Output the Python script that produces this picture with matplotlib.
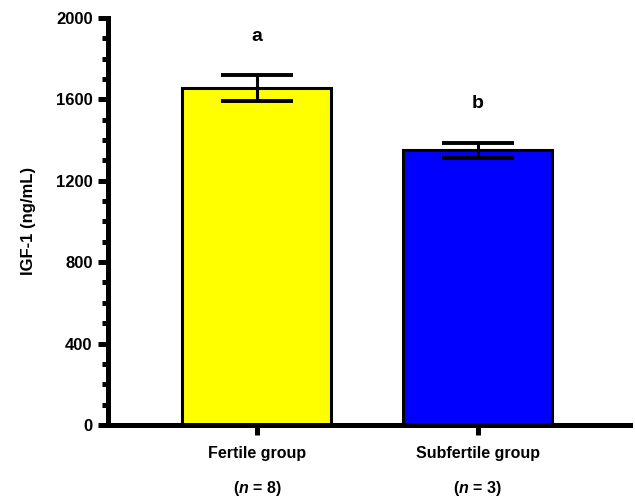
import numpy as np
import matplotlib.pyplot as plt

plt.rcParams['font.family'] = ['Liberation Sans', 'DejaVu Sans']
plt.rcParams['font.weight'] = 'bold'
plt.rcParams['mathtext.fontset'] = 'custom'
plt.rcParams['mathtext.it'] = 'Liberation Sans:bold:italic'
plt.rcParams['mathtext.rm'] = 'Liberation Sans:bold'

groups = ['Fertile group', 'Subfertile group']
n_labels = ['($\\it{n}$ = 8)', '($\\it{n}$ = 3)']
igf1 = [1655, 1350]
sem = [64, 36]
letters = ['a', 'b']
colors = ['#ffff00', '#0000ff']

fig = plt.figure(figsize=(6.35, 4.97), dpi=100)
ax = fig.add_axes([0.170, 0.145, 0.822, 0.819])

x = np.arange(len(groups))
ax.bar(x, igf1, width=0.675, color=colors, edgecolor='black', linewidth=2.2, zorder=2)
ax.errorbar(x, igf1, yerr=sem, fmt='none', ecolor='black', elinewidth=2.2,
            capsize=26, capthick=2.8, zorder=3)

for xi, v, e, l in zip(x, igf1, sem, letters):
    ax.text(xi, v + e + 150, l, ha='center', va='bottom', fontsize=14, fontweight='bold')

ax.set_xlim(-0.675, 1.69)
ax.set_ylim(0, 2000)
ax.set_yticks([0, 400, 800, 1200, 1600, 2000])
ax.set_yticks(np.arange(0, 2001, 100), minor=True)
ax.set_xticks(x)
ax.set_xticklabels([''] * len(groups))
for xi, g, n in zip(x, groups, n_labels):
    ax.text(xi, -0.07, g, transform=ax.get_xaxis_transform(), ha='center', va='center',
            fontsize=11.5, fontweight='bold')
    ax.text(xi, -0.155, n, transform=ax.get_xaxis_transform(), ha='center', va='center',
            fontsize=11.5, fontweight='bold')

ax.set_ylabel('IGF-1 (ng/mL)', fontsize=12, fontweight='bold', labelpad=14)
ax.tick_params(axis='y', which='major', length=7, width=3.6, labelsize=12, pad=4)
ax.tick_params(axis='y', which='minor', length=4, width=3.6)
ax.tick_params(axis='x', which='major', length=7, width=3.6)
for lab in ax.get_yticklabels():
    lab.set_fontweight('bold')

ax.spines['top'].set_visible(False)
ax.spines['right'].set_visible(False)
ax.spines['left'].set_linewidth(3.6)
ax.spines['bottom'].set_linewidth(3.6)

fig.savefig('out.png', dpi=100)
